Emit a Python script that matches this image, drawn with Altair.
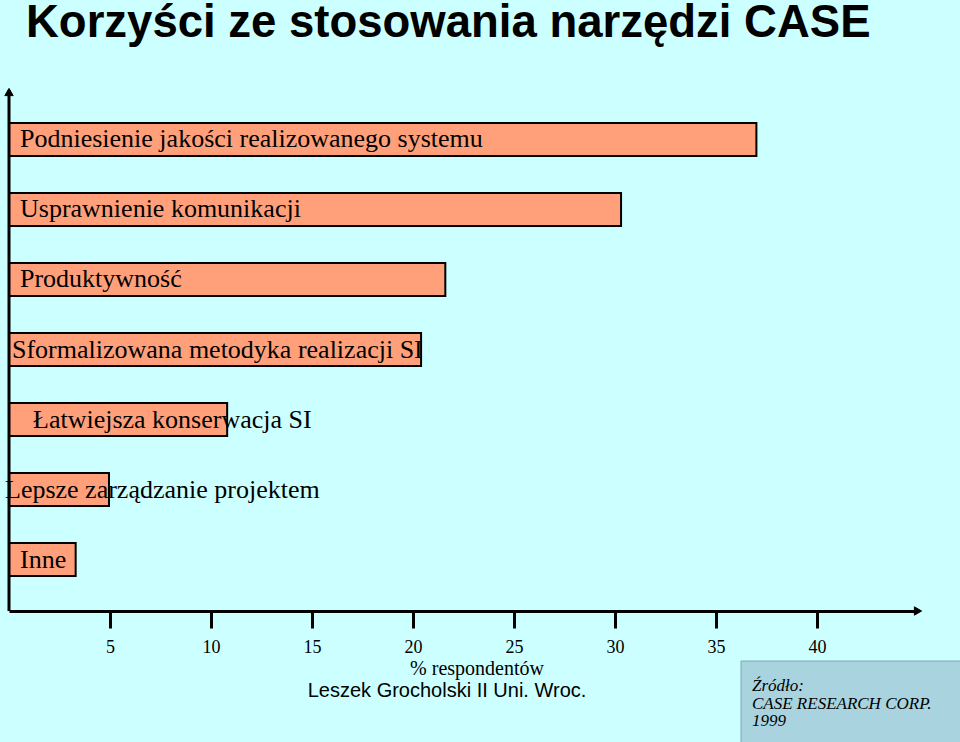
import altair as alt
import pandas as pd

# ---- data ----
categories = [
    "Podniesienie jakości realizowanego systemu",
    "Usprawnienie komunikacji",
    "Produktywność",
    "Sformalizowana metodyka realizacji SI",
    "Łatwiejsza konserwacja SI",
    "Lepsze zarządzanie projektem",
    "Inne",
]
values = [37.0, 30.3, 21.6, 20.4, 10.8, 4.95, 3.3]
tick_values = [5, 10, 15, 20, 25, 30, 35, 40]
title_text = "Korzyści ze stosowania narzędzi CASE"
axis_title = "% respondentów"
author_text = "Leszek Grocholski II Uni. Wroc."
source_lines = ["Źródło:", "CASE RESEARCH CORP.", "1999"]

df = pd.DataFrame({"cat": categories, "val": values})

# ---- layout / style ----
W, H = 906, 523
SERIF = "Liberation Serif"
SANS = "Liberation Sans"
label_dx = [0, 0, 0, -8, 13, -15, 0]   # small nudges of the in-bar labels

xscale = alt.Scale(domain=[0, W / 20.2], range=[0, W], nice=False, zero=True)
yscale = alt.Scale(domain=categories, range=[35, 488], paddingInner=0.5286, paddingOuter=0)

base = alt.Chart(df)

bars = base.mark_bar(color="#FFA07A", stroke="black", strokeWidth=2).encode(
    x=alt.X("val:Q", scale=xscale,
            axis=alt.Axis(values=tick_values, title=None, domainWidth=3, domainColor="black",
                          tickSize=17, tickWidth=3, tickColor="black", labelFont=SERIF,
                          labelFontSize=18, labelColor="black", labelPadding=10, grid=False,
                          labelFlush=False, labelOverlap=False)),
    y=alt.Y("cat:N", scale=yscale, sort=categories, axis=None),
)

label_layers = []
for i, cat in enumerate(categories):
    label_layers.append(
        base.transform_filter(alt.datum.cat == cat).mark_text(
            align="left", baseline="middle", font=SERIF, fontSize=26, color="black", dx=label_dx[i]
        ).encode(
            x=alt.value(11),
            y=alt.Y("cat:N", scale=yscale, sort=categories, bandPosition=0.5, axis=None),
            text="cat:N",
        )
    )

one = pd.DataFrame({"a": [0]})
yaxis_line = alt.Chart(one).mark_rule(color="black", strokeWidth=3).encode(
    x=alt.value(0), y=alt.value(2), y2=alt.value(H))
arrow_up = alt.Chart(one).mark_point(shape="triangle-up", filled=True, fill="black", stroke="black",
                                     size=70, opacity=1, strokeWidth=1).encode(x=alt.value(0), y=alt.value(4))
arrow_right = alt.Chart(one).mark_point(shape="triangle-right", filled=True, fill="black", stroke="black",
                                        size=70, opacity=1, strokeWidth=1).encode(x=alt.value(W + 3), y=alt.value(H))

title = alt.Chart(pd.DataFrame({"t": [title_text]})).mark_text(
    align="left", baseline="middle", font=SANS, fontSize=45.5, fontWeight="bold", color="black"
).encode(x=alt.value(17), y=alt.value(-65), text="t:N")

xtitle = alt.Chart(pd.DataFrame({"t": [axis_title]})).mark_text(
    align="center", baseline="middle", font=SERIF, fontSize=20, color="black"
).encode(x=alt.value(468), y=alt.value(581), text="t:N")

author = alt.Chart(pd.DataFrame({"t": [author_text]})).mark_text(
    align="center", baseline="middle", font=SANS, fontSize=20, color="black"
).encode(x=alt.value(438), y=alt.value(603), text="t:N")

src_box = alt.Chart(one).mark_rect(fill="#A8D3DF", stroke="#7FA7B5", strokeWidth=1).encode(
    x=alt.value(732), x2=alt.value(960), y=alt.value(573), y2=alt.value(670))

src_text = alt.Chart(pd.DataFrame({"t": ["\n".join(source_lines)]})).mark_text(
    align="left", baseline="middle", font=SERIF, fontSize=17, fontStyle="italic", color="black",
    lineBreak="\n", lineHeight=17.5
).encode(x=alt.value(743), y=alt.value(598), text="t:N")

chart = alt.layer(bars, *label_layers, yaxis_line, arrow_up, arrow_right, title, xtitle, author,
                  src_box, src_text).properties(
    width=W, height=H,
    autosize=alt.AutoSizeParams(type="none"),
    padding={"left": 9, "top": 88, "right": 45, "bottom": 131},
).configure(background="#CCFFFF").configure_view(stroke=None)

chart.save("out.html", embed_options={"renderer": "svg", "actions": False})
